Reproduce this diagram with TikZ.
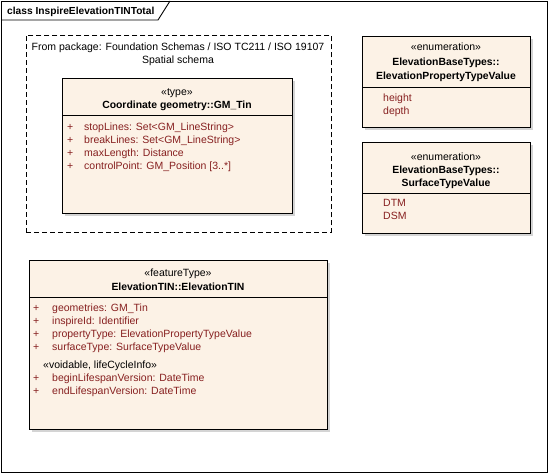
\documentclass[tikz,border=0pt]{standalone}
\usepackage{fontspec}
\setmainfont{Liberation Sans}
\usetikzlibrary{positioning,shadows}
\definecolor{classfill}{RGB}{252,242,230}
\definecolor{attrred}{RGB}{135,32,32}
\definecolor{shadowgray}{RGB}{212,212,212}
\tikzset{
  classbox/.style={draw, line width=0.9pt, fill=classfill, anchor=north west,
    drop shadow={shadow xshift=3pt, shadow yshift=-3pt, fill=shadowgray, opacity=1}},
  pkgbox/.style={draw, line width=0.8pt, dash pattern=on 5pt off 3pt, anchor=north west},
  stereo/.style={anchor=base},
  cname/.style={anchor=base, font=\fontsize{10.4}{12}\selectfont\bfseries},
  attr/.style={anchor=base west, text=attrred},
}
\begin{document}
\begin{tikzpicture}[x=1pt,y=-1pt,
    every node/.style={inner sep=0pt, font=\fontsize{10.5}{12}\selectfont}]
    \useasboundingbox (0,0) rectangle (549,474);
    % diagram frame with its name tab
    \draw[line width=0.9pt] (1,1) rectangle (547,472);
    \draw[line width=0.9pt] (1,20) -- (158,20) -- (170,1);
    \node[anchor=base west, font=\fontsize{10.2}{12}\selectfont\bfseries] (frametitle) at (7,14)
      {class InspireElevationTINTotal};

    % package Spatial schema
    \node[pkgbox, minimum width=305pt, minimum height=197pt] (spatial) at (26,35) {};
    \node[stereo] (pkgline1) at (178,50) {From package: Foundation Schemas / ISO TC211 / ISO 19107};
    \node[stereo] (pkgline2) at (178,63) {Spatial schema};

    \node[classbox, minimum width=230pt, minimum height=135pt] (gmtin) at (62,78) {};
    \draw[line width=0.9pt] (gmtin.west |- 0,115) -- (gmtin.east |- 0,115);
    \node[stereo] (gmtinst) at (177,95) {«type»};
    \node[cname] (gmtinname) at (177,108) {Coordinate geometry::GM\_Tin};
    \foreach \a [count=\i] in {stopLines: Set<GM\_LineString>,
        breakLines: Set<GM\_LineString>, maxLength: Distance,
        controlPoint: GM\_Position [3..*]} {
      \node[attr] (gmtinplus\i) at (67,{117+13*\i}) {+};
      \node[attr] (gmtinattr\i) at (84,{117+13*\i}) {\a};
    }

    % enumerations
    \node[classbox, minimum width=168pt, minimum height=91pt] (proptype) at (362,36) {};
    \draw[line width=0.9pt] (proptype.west |- 0,87) -- (proptype.east |- 0,87);
    \node[stereo] (proptypest) at (446,50) {«enumeration»};
    \node[cname] (proptypename1) at (446,65) {ElevationBaseTypes::};
    \node[cname] (proptypename2) at (446,79) {ElevationPropertyTypeValue};
    \node[attr] (height) at (383,101) {height};
    \node[attr] (depth) at (383,114) {depth};

    \node[classbox, minimum width=168pt, minimum height=91pt] (surftype) at (362,142) {};
    \draw[line width=0.9pt] (surftype.west |- 0,193) -- (surftype.east |- 0,193);
    \node[stereo] (surftypest) at (446,160) {«enumeration»};
    \node[cname] (surftypename1) at (446,173) {ElevationBaseTypes::};
    \node[cname] (surftypename2) at (446,186) {SurfaceTypeValue};
    \node[attr] (dtm) at (383,206) {DTM};
    \node[attr] (dsm) at (383,219) {DSM};

    % feature type
    \node[classbox, minimum width=298pt, minimum height=169pt] (eltin) at (29,260) {};
    \draw[line width=0.9pt] (eltin.west |- 0,297) -- (eltin.east |- 0,297);
    \node[stereo] (eltinst) at (178,276) {«featureType»};
    \node[cname] (eltinname) at (178,290) {ElevationTIN::ElevationTIN};
    \foreach \a [count=\i] in {geometries: GM\_Tin, inspireId: Identifier,
        propertyType: ElevationPropertyTypeValue, surfaceType: SurfaceTypeValue} {
      \node[attr] (eltinplus\i) at (33,{298+13*\i}) {+};
      \node[attr] (eltinattr\i) at (52,{298+13*\i}) {\a};
    }
    \node[anchor=base west] (voidable) at (43,368) {«voidable, lifeCycleInfo»};
    \foreach \a [count=\i] in {beginLifespanVersion: DateTime,
        endLifespanVersion: DateTime} {
      \node[attr] (lifeplus\i) at (33,{368+13*\i}) {+};
      \node[attr] (lifeattr\i) at (52,{368+13*\i}) {\a};
    }
\end{tikzpicture}
\end{document}
